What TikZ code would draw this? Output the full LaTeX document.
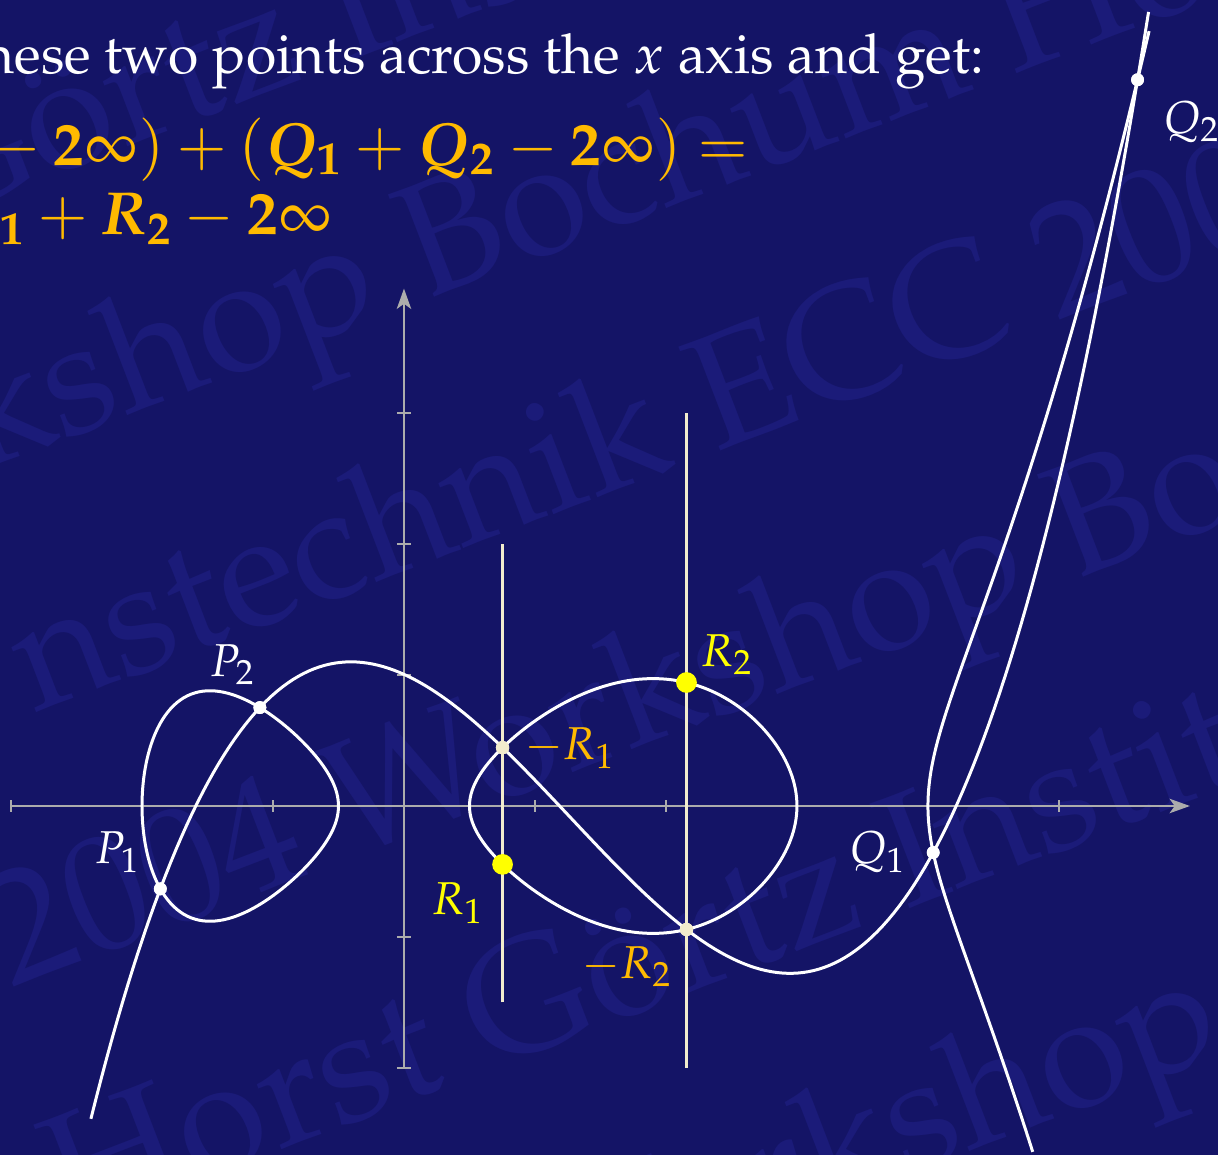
\documentclass[tikz,border=0pt]{standalone}
\usepackage[T1]{fontenc}
\usepackage{mathpazo}
\usepackage{amsmath}
\usepackage{tikz}
\usetikzlibrary{arrows.meta, positioning}

\definecolor{slidebg}{RGB}{20,20,102}
\definecolor{stamp}{RGB}{27,27,121}
\definecolor{axisgray}{RGB}{172,172,172}
\definecolor{cream}{RGB}{242,236,205}
\definecolor{sumgold}{RGB}{255,186,0}
\definecolor{brightyellow}{RGB}{255,255,0}

\newcommand{\bq}[1]{\boldsymbol{#1}}

\tikzset{
  curve/.style={white, line width=0.65pt, line join=round},
  axis/.style={axisgray, line width=0.62pt},
  vline/.style={cream, line width=0.6pt},
  dot/.style={circle, fill=white, inner sep=0pt, minimum size=2.8pt},
  negdot/.style={circle, fill=cream, inner sep=0pt, minimum size=2.9pt},
  bigdot/.style={circle, fill=brightyellow, inner sep=0pt, minimum size=4.5pt},
  lbl/.style={inner sep=0pt, font=\fontsize{10}{12}\selectfont},
  sumline/.style={sumgold, anchor=base east, inner sep=0pt, font=\fontsize{13.2}{16}\selectfont},
  stamptext/.style={stamp, rotate=21, anchor=base west, inner sep=0pt, font=\fontsize{35}{40}\selectfont},
}

\begin{document}
\begin{tikzpicture}[
    declare function={
      ploop(\x)=(0.5-\x)*(3-\x)*(4-\x)/32;
      rloop(\x)=(\x+2)*(\x+0.5)*(4-\x)/32;
      rbranch(\x)=(\x+2)*(\x+0.5)*(\x-0.5)*(\x-3)/32;
      vcub(\x)=((0.126225*\x-0.481422)*\x-0.451896)*\x+1.004842;
    }]
    \path[use as bounding box] (-3.084,-2.664) rectangle (6.214,6.153);
    \fill[slidebg] (-3.084,-2.664) rectangle (6.214,6.153);
    \clip (-3.084,-2.664) rectangle (6.214,6.153);

    % watermark
    \node[stamptext] (wm1) at (-3.64,4.45) {G\"ortz Institut};
    \node[stamptext] (wm2) at (-3.25,2.55) {kshop Bochum Horst};
    \node[stamptext] (wm3) at (2.37,2.70) {\llap{nstechnik }ECC 2004};
    \node[stamptext] (wm4) at (-3.00,-1.39) {2004 Workshop Bochum};
    \node[stamptext] (wm5) at (-2.55,-3.24) {Horst G\"ortz Institut};
    \node[stamptext] (wm6) at (3.18,-3.07) {\llap{Wor}kshop};

    % slide text
    \node[white, anchor=base east, inner sep=0pt, font=\fontsize{12}{14}\selectfont] (intro) at (4.435,5.595) {hese two points across the $x$ axis and get:};
    \node[sumline] (sumA) at (2.641,4.893) {$\mathord{-}\mskip\medmuskip \mathbf{2}\infty)+(\bq{Q_1}+\bq{Q_2}-\mathbf{2}\infty)=$};
    \node[sumline] (sumB) at (-0.542,4.359) {$\bq{R_1}+\bq{R_2}-\mathbf{2}\infty$};

    % axes
    \draw[axis, -{Stealth[length=4.4pt, width=3.1pt, inset=1.1pt]}] (-3,0) -- (6,0);
    \draw[axis, -{Stealth[length=4.4pt, width=3.1pt, inset=1.1pt]}] (0,-2) -- (0,3.95);
    \foreach \x in {-3,-2,-1,1,2,3,4,5}
        \draw[axis] (\x,-0.045) -- (\x,0.045);
    \foreach \y in {-2,-1,1,2,3}
        \draw[axis] (-0.055,\y) -- (0.055,\y);

    % the points
    \node[dot] (P1) at (-1.86,-0.6324) {};
    \node[dot] (P2) at (-1.1,0.7514) {};
    \node[dot] (Q1) at (4.04,-0.3552) {};
    \node[dot] (Q2) at (5.6,5.544) {};
    \node[negdot] (mR1) at (0.7526,0.4458) {};
    \node[negdot] (mR2) at (2.1567,-0.9428) {};

    % reflection lines
    \draw[vline] (mR1 |- 0,-1.5) -- (mR1 |- 0,2);
    \draw[vline] (mR2 |- 0,-2) -- (mR2 |- 0,3);

    % curve y^2 = f(x) and the cubic
    \draw[curve] plot[variable=\t, domain=0:360, samples=145]
        ({-1.25-0.75*cos(\t)}, {0.75*sin(\t)*sqrt(ploop(-1.25-0.75*cos(\t)))}) -- cycle;
    \draw[curve] plot[variable=\t, domain=0:360, samples=181]
        ({1.75-1.25*cos(\t)}, {1.25*sin(\t)*sqrt(rloop(1.75-1.25*cos(\t)))}) -- cycle;
    \draw[curve] plot[variable=\s, domain=-0.8944:1.3, samples=121]
        ({4+\s*\s}, {\s*sqrt(rbranch(4+\s*\s))});
    \draw[curve] plot[domain=-2.39:5.685, samples=200] (\x, {vcub(\x)});

    % points on top
    \node[dot] at (P1) {};
    \node[dot] at (P2) {};
    \node[dot] at (Q1) {};
    \node[dot] at (Q2) {};
    \node[negdot] at (mR1) {};
    \node[negdot] at (mR2) {};
    \node[bigdot] (R1) at (0.7526,-0.4458) {};
    \node[bigdot] (R2) at (2.1567,0.9428) {};

    % labels
    \node[lbl, white] (lP1) at (-2.183,-0.351) {$P_1$};
    \node[lbl, white] (lP2) at (-1.305,1.076) {$P_2$};
    \node[lbl, white] (lQ1) at (3.618,-0.351) {$Q_1$};
    \node[lbl, white] (lQ2) at (6.015,5.221) {$Q_2$};
    \node[lbl, sumgold] (lmR1) at (1.267,0.443) {$-R_1$};
    \node[lbl, sumgold] (lmR2) at (1.702,-1.229) {$-R_2$};
    \node[lbl, brightyellow] (lR1) at (0.412,-0.740) {$R_1$};
    \node[lbl, brightyellow] (lR2) at (2.466,1.153) {$R_2$};
\end{tikzpicture}
\end{document}
